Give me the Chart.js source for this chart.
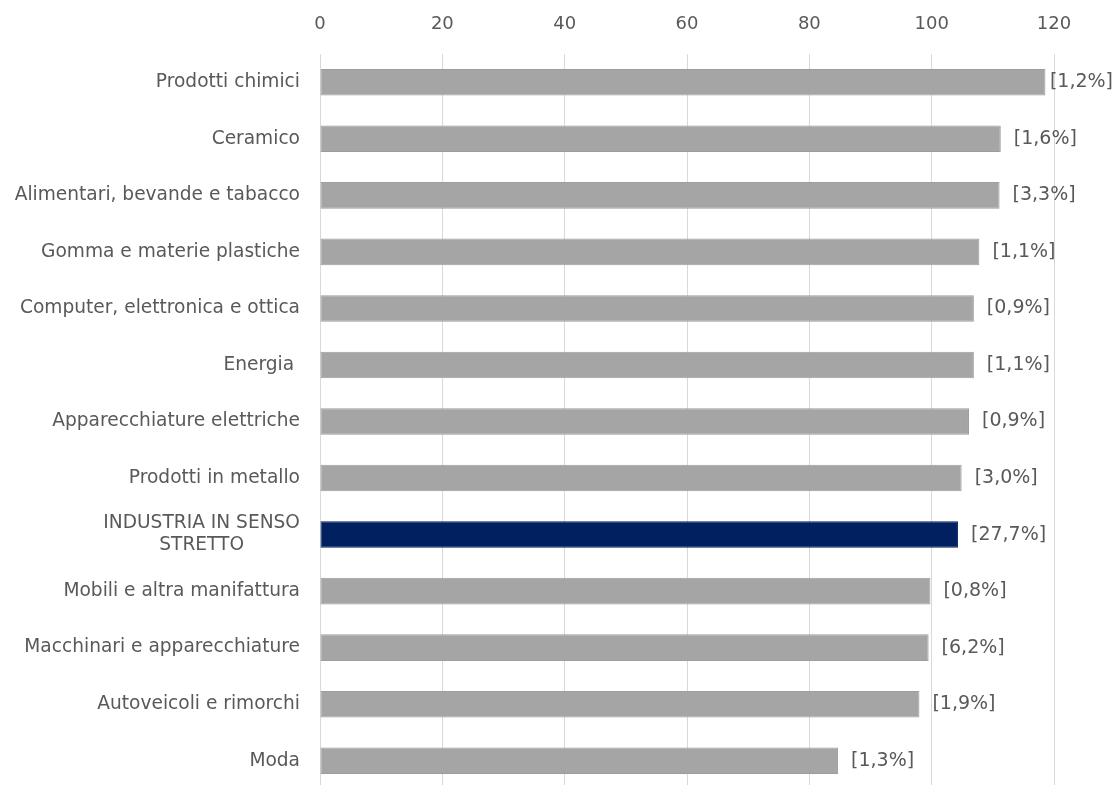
<!DOCTYPE html>
<html>
<head>
<meta charset="utf-8">
<script src="https://cdn.jsdelivr.net/npm/chart.js@4"></script>
<style>
  html, body { margin: 0; padding: 0; background: #fff; overflow: hidden; }
  #wrap { width: 1119px; height: 789px; position: relative; }
</style>
</head>
<body>
<div id="wrap"><canvas id="chart"></canvas></div>
<script>
// dati
const categories = [
    'Prodotti chimici',
    'Ceramico',
    'Alimentari, bevande e tabacco',
    'Gomma e materie plastiche',
    'Computer, elettronica e ottica',
    'Energia ',
    'Apparecchiature elettriche',
    'Prodotti in metallo',
    ['INDUSTRIA IN SENSO', 'STRETTO'],
    'Mobili e altra manifattura',
    'Macchinari e apparecchiature',
    'Autoveicoli e rimorchi',
    'Moda'
];
const values = [118.6, 111.3, 111.1, 107.8, 106.9, 106.9, 106.1, 104.9, 104.3, 99.8, 99.5, 98.0, 84.7];
const shares = ['[1,2%]', '[1,6%]', '[3,3%]', '[1,1%]', '[0,9%]', '[1,1%]', '[0,9%]', '[3,0%]', '[27,7%]', '[0,8%]', '[6,2%]', '[1,9%]', '[1,3%]'];
const highlightIndex = 8;
const xMin = 0, xMax = 120, xStep = 20;

const FONT = '"DejaVu Sans", sans-serif';
const TEXT_COLOR = '#595959';

// etichette categorie (centrate fra loro, allineate a destra sul blocco)
const categoryLabels = {
    id: 'categoryLabels',
    afterDraw(chart) {
        const ctx = chart.ctx;
        const y = chart.scales.y;
        const right = chart.chartArea.left - 20;
        ctx.save();
        ctx.font = '18.6px ' + FONT;
        ctx.fillStyle = TEXT_COLOR;
        ctx.textBaseline = 'middle';
        ctx.textAlign = 'center';
        categories.forEach((lab, i) => {
            const lines = Array.isArray(lab) ? lab : [lab];
            const w = Math.max(...lines.map(l => ctx.measureText(l).width));
            const cx = right - w / 2;
            const lh = 22;
            const cy = y.getPixelForTick(i);
            lines.forEach((l, k) => {
                ctx.fillText(l, cx, cy + (k - (lines.length - 1) / 2) * lh);
            });
        });
        ctx.restore();
    }
};

// etichette dei valori a destra delle barre
const shareLabels = {
    id: 'shareLabels',
    afterDatasetsDraw(chart) {
        const ctx = chart.ctx;
        const meta = chart.getDatasetMeta(0);
        ctx.save();
        ctx.font = '19px ' + FONT;
        ctx.fillStyle = TEXT_COLOR;
        ctx.textBaseline = 'middle';
        ctx.textAlign = 'left';
        meta.data.forEach((bar, i) => {
            const w = ctx.measureText(shares[i]).width;
            const x = Math.min(bar.x + 13, chart.width - 6 - w);
            ctx.fillText(shares[i], x, bar.y);
        });
        ctx.restore();
    }
};

new Chart(document.getElementById('chart'), {
    type: 'bar',
    data: {
        labels: categories,
        datasets: [{
            data: values,
            backgroundColor: values.map((v, i) => i === highlightIndex ? '#002060' : '#a5a5a5'),
            borderColor: values.map((v, i) => i === highlightIndex ? '#002060' : '#9d9d9d'),
            borderWidth: 1,
            borderSkipped: false,
            categoryPercentage: 1,
            barPercentage: 0.47
        }]
    },
    options: {
        indexAxis: 'y',
        responsive: true,
        maintainAspectRatio: false,
        animation: false,
        layout: { padding: { left: 0, right: 65, top: 0, bottom: 0 } },
        plugins: {
            legend: { display: false },
            tooltip: { enabled: false }
        },
        scales: {
            x: {
                position: 'top',
                min: xMin,
                max: xMax,
                ticks: {
                    stepSize: xStep,
                    color: TEXT_COLOR,
                    font: { family: FONT, size: 18 },
                    padding: 19
                },
                grid: { color: '#d9d9d9', lineWidth: 1, drawTicks: false },
                border: { display: false },
                afterFit: (scale) => { scale.height = 54; }
            },
            y: {
                ticks: { display: false },
                grid: { display: false },
                border: { display: false },
                afterFit: (scale) => { scale.width = 320; }
            }
        }
    },
    plugins: [categoryLabels, shareLabels]
});
</script>
</body>
</html>
